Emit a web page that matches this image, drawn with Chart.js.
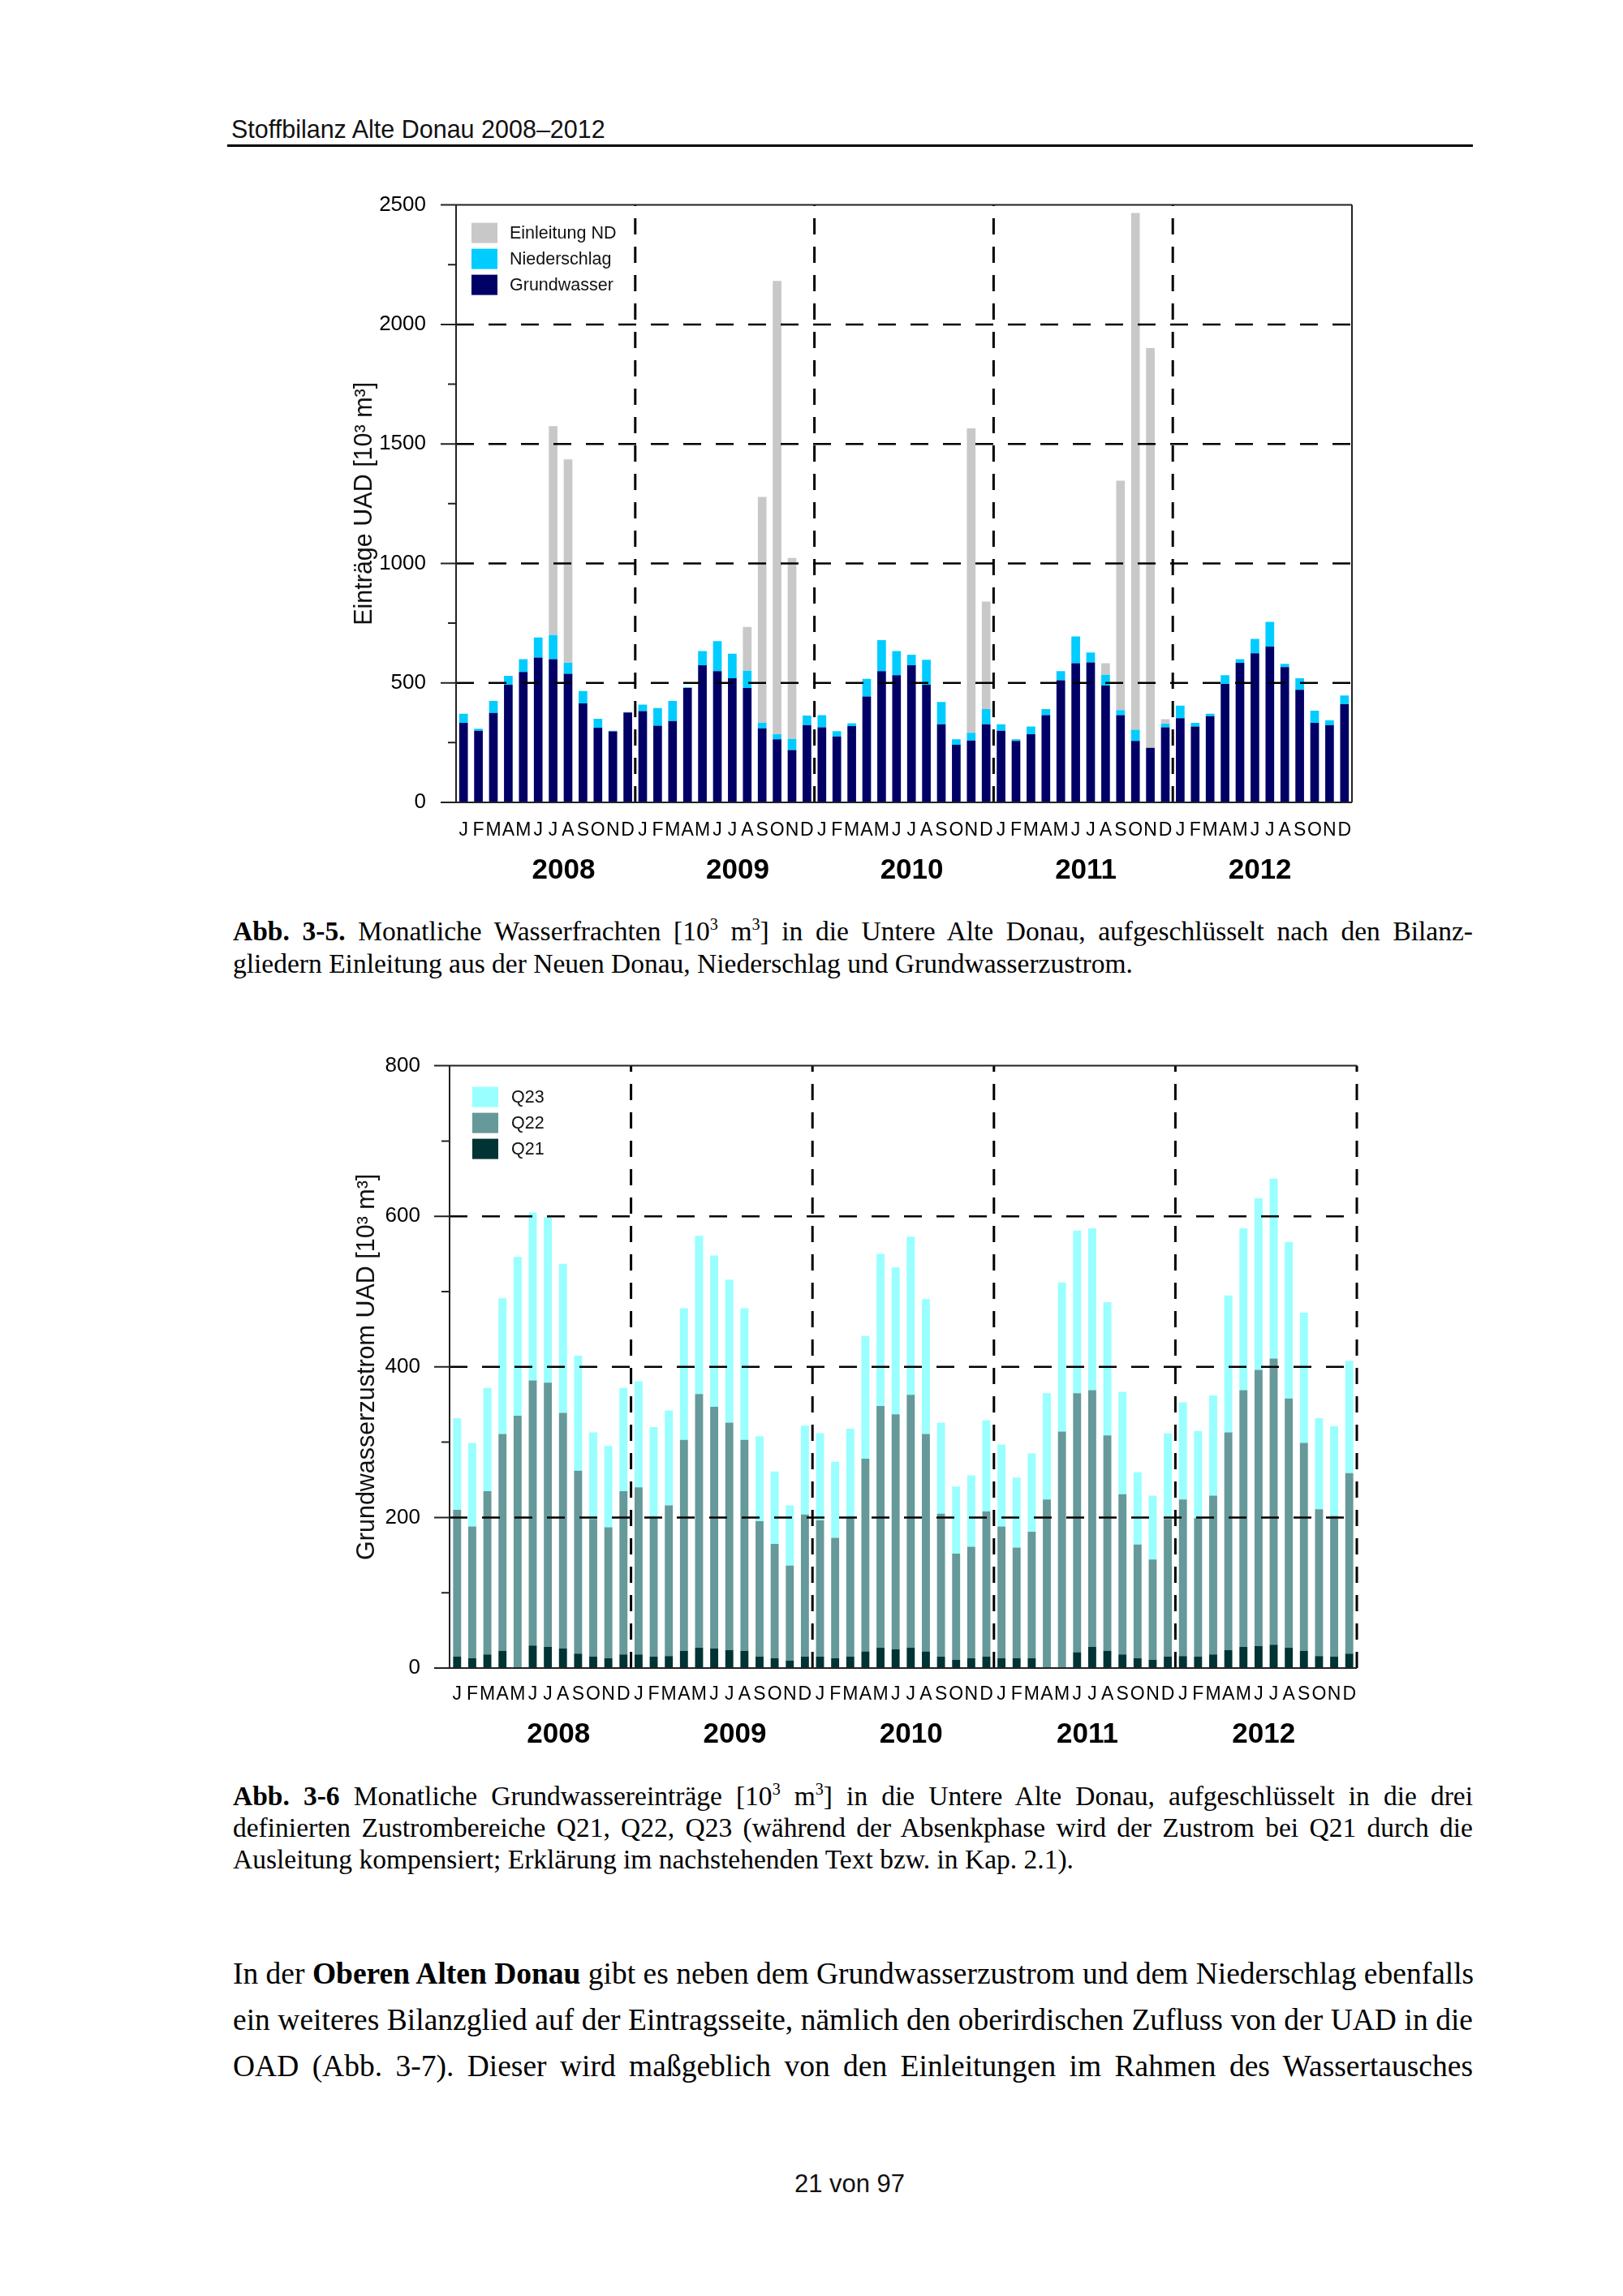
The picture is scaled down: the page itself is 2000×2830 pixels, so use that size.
<!DOCTYPE html>
<html>
<head>
<meta charset="utf-8">
<script src="https://cdn.jsdelivr.net/npm/chart.js@4.4.1/dist/chart.umd.min.js"></script>
<style>
  body { margin: 0; background: #fff; }
  .page { position: relative; width: 2000px; height: 2830px; overflow: hidden; }
  .abs { position: absolute; }
  .head { left: 285px; top: 141px; font: 30.5px/36px "Liberation Sans", Arial, sans-serif; color: #111; }
  .rule { left: 280px; top: 178px; width: 1535px; height: 3px; background: #000; }
  .serif { font-family: "Liberation Serif", "Times New Roman", serif; color: #000; }
  .cap { left: 287px; width: 1528px; font-size: 33.5px; }
  .body { left: 287px; width: 1528px; font-size: 37.5px; }
  .cap div, .body div { white-space: nowrap; }
  .j { text-align: justify; text-align-last: justify; }
  sup { font-size: 0.6em; line-height: 0; vertical-align: 0.65em; }
  .foot { left: 900px; width: 294px; top: 2674px; text-align: center; font: 31px/36px "Liberation Sans", Arial, sans-serif; color: #111; }
  canvas { position: absolute; }
</style>
</head>
<body>
<div class="page">
  <div class="abs head">Stoffbilanz Alte Donau 2008–2012</div>
  <div class="abs rule"></div>

  <canvas id="chart1" width="1320" height="920" style="left:380px;top:200px;width:1320px;height:920px"></canvas>

  <div class="abs serif cap" style="top:1128px;line-height:40px">
    <div class="j"><b>Abb. 3-5.</b> Monatliche Wasserfrachten [10<sup>3</sup> m<sup>3</sup>] in die Untere Alte Donau, aufgeschlüsselt nach den Bilanz-</div>
    <div>gliedern Einleitung aus der Neuen Donau, Niederschlag und Grundwasserzustrom.</div>
  </div>

  <canvas id="chart2" width="1320" height="918" style="left:380px;top:1262px;width:1320px;height:918px"></canvas>

  <div class="abs serif cap" style="top:2194px;line-height:39px">
    <div class="j"><b>Abb. 3-6</b> Monatliche Grundwassereinträge [10<sup>3</sup> m<sup>3</sup>] in die Untere Alte Donau, aufgeschlüsselt in die drei</div>
    <div class="j">definierten Zustrombereiche Q21, Q22, Q23 (während der Absenkphase wird der Zustrom bei Q21 durch die</div>
    <div>Ausleitung kompensiert; Erklärung im nachstehenden Text bzw. in Kap. 2.1).</div>
  </div>

  <div class="abs serif body" style="top:2404px;line-height:57px">
    <div class="j">In der <b>Oberen Alten Donau</b> gibt es neben dem Grundwasserzustrom und dem Niederschlag ebenfalls</div>
    <div class="j">ein weiteres Bilanzglied auf der Eintragsseite, nämlich den oberirdischen Zufluss von der UAD in die</div>
    <div class="j">OAD (Abb. 3-7). Dieser wird maßgeblich von den Einleitungen im Rahmen des Wassertausches</div>
  </div>

  <div class="abs foot">21 von 97</div>
</div>

<script>
// month letters and years
const monthLetters = ['J','F','M','A','M','J','J','A','S','O','N','D'];
const years = ['2008','2009','2010','2011','2012'];
const months = years.flatMap(() => monthLetters);

// Abb. 3-5 (10^3 m^3), stacked: Grundwasser, Niederschlag, Einleitung ND
const grundwasser = [
  333, 300, 374, 492, 546, 606, 599, 538, 414, 312, 297, 376,
  382, 321, 340, 479, 574, 549, 519, 479, 310, 264, 219, 323,
  314, 276, 319, 443, 549, 532, 574, 492, 327, 241, 259, 327,
  300, 257, 285, 365, 511, 582, 586, 489, 365, 257, 228, 314,
  352, 317, 361, 496, 584, 624, 652, 566, 471, 333, 323, 411
];
const niederschlag = [
  38, 8, 50, 38, 53, 84, 101, 46, 52, 38, 3, 2,
  27, 74, 84, 2, 59, 126, 103, 72, 23, 21, 47, 40,
  51, 22, 12, 74, 130, 101, 44, 105, 93, 23, 32, 63,
  27, 7, 32, 25, 38, 112, 41, 45, 21, 47, 0, 15,
  53, 16, 10, 36, 15, 60, 103, 14, 48, 51, 21, 36
];
const einleitungND = [
  0, 0, 0, 0, 0, 0, 874, 851, 0, 0, 0, 0,
  0, 0, 0, 0, 0, 0, 0, 183, 945, 1897, 757, 0,
  0, 0, 0, 0, 0, 0, 0, 0, 0, 0, 1274, 450,
  0, 0, 0, 0, 0, 0, 0, 48, 960, 2162, 1673, 19,
  0, 0, 0, 0, 0, 0, 0, 0, 0, 0, 0, 0
];

// Abb. 3-6 (10^3 m^3), stacked: Q21, Q22, Q23
const q21 = [
  15, 13, 18, 23, 0, 30, 28, 26, 19, 15, 13, 18,
  18, 15, 16, 23, 27, 26, 24, 23, 15, 13, 10, 15,
  15, 13, 15, 22, 27, 25, 27, 22, 15, 11, 13, 15,
  13, 13, 13, 0, 0, 21, 28, 23, 18, 13, 11, 15,
  16, 15, 18, 24, 28, 29, 31, 27, 23, 16, 15, 19
];
const q22 = [
  195, 175, 217, 288, 335, 352, 351, 313, 243, 183, 174, 217,
  222, 186, 200, 280, 337, 321, 302, 280, 180, 152, 126, 189,
  181, 160, 186, 256, 321, 312, 336, 289, 190, 141, 148, 193,
  175, 147, 168, 224, 314, 344, 341, 286, 213, 151, 133, 183,
  208, 184, 211, 289, 341, 367, 380, 331, 276, 195, 187, 240
];
const q23 = [
  122, 111, 137, 180, 211, 223, 220, 198, 153, 115, 108, 137,
  141, 119, 126, 175, 210, 201, 190, 175, 113, 96, 80, 118,
  116, 101, 117, 163, 202, 195, 210, 179, 121, 89, 95, 121,
  109, 93, 104, 141, 198, 216, 215, 177, 136, 96, 85, 114,
  129, 116, 133, 182, 215, 228, 239, 208, 173, 121, 119, 149
];

const SANS = '"Liberation Sans", Arial, sans-serif';

// frame, dashed grid, year dividers, legend, axis title, year labels
function pagePlugin(cfg) {
  return {
    id: 'pageFrame',
    afterDatasetsDraw(chart) {
      const { ctx, chartArea: a, scales: { x, y } } = chart;
      ctx.save();

      // dashed horizontal grid
      ctx.strokeStyle = '#000';
      ctx.lineWidth = 2.5;
      ctx.setLineDash([22, 18]);
      cfg.grid.forEach(v => {
        const py = y.getPixelForValue(v);
        ctx.beginPath();
        ctx.moveTo(a.left, py);
        ctx.lineTo(a.right, py);
        ctx.stroke();
      });

      // dashed year dividers
      ctx.setLineDash([20, 15]);
      ctx.lineWidth = 3;
      cfg.dividers.forEach(i => {
        const px = x.getPixelForValue(i - 0.5);
        ctx.beginPath();
        ctx.moveTo(px, a.bottom);
        ctx.lineTo(px, a.top);
        ctx.stroke();
      });
      ctx.setLineDash([]);

      // axis lines + ticks
      ctx.strokeStyle = '#222';
      ctx.lineWidth = 2;
      ctx.beginPath();
      ctx.moveTo(a.left - 19, a.top); ctx.lineTo(a.right, a.top);
      ctx.moveTo(a.left - 19, a.bottom); ctx.lineTo(a.right, a.bottom);
      ctx.moveTo(a.left, a.top); ctx.lineTo(a.left, a.bottom);
      if (cfg.rightBorder) {
        ctx.moveTo(a.right, a.top); ctx.lineTo(a.right, a.bottom);
      }
      y.ticks.forEach(t => {
        const py = y.getPixelForValue(t.value);
        const len = t.value % cfg.major === 0 ? 19 : 10;
        ctx.moveTo(a.left - len, py);
        ctx.lineTo(a.left, py);
      });
      ctx.stroke();

      // legend
      ctx.font = '21.5px ' + SANS;
      ctx.textBaseline = 'middle';
      ctx.textAlign = 'left';
      cfg.legend.forEach((item, k) => {
        const by = a.top + cfg.legendTop + k * 32;
        ctx.fillStyle = item.color;
        ctx.fillRect(a.left + cfg.boxX, by, 32, 25);
        ctx.fillStyle = '#111';
        ctx.fillText(item.label, a.left + cfg.textX, by + 13);
      });

      // y axis title
      ctx.save();
      ctx.translate(a.left - cfg.titleOffset, (a.top + a.bottom) / 2);
      ctx.rotate(-Math.PI / 2);
      ctx.textAlign = 'center';
      ctx.font = '30.5px ' + SANS;
      ctx.fillStyle = '#111';
      ctx.fillText(cfg.title, 0, 0);
      ctx.restore();

      // year labels
      ctx.font = 'bold 35px ' + SANS;
      ctx.fillStyle = '#000';
      ctx.textAlign = 'center';
      years.forEach((yr, k) => {
        const px = x.getPixelForValue(12 * k + 6.7 - 0.34 * k);
        ctx.fillText(yr, px, a.bottom + cfg.yearY);
      });

      ctx.restore();
    }
  };
}

function makeChart(id, datasets, opts) {
  return new Chart(document.getElementById(id), {
    type: 'bar',
    data: { labels: months, datasets: datasets },
    options: {
      responsive: false,
      animation: false,
      // top space comes from the y tick padding (label half height + padding)
      layout: { padding: { top: 0, right: opts.padRight, left: 0, bottom: 0 } },
      plugins: { legend: { display: false }, tooltip: { enabled: false } },
      scales: {
        x: {
          stacked: true,
          grid: { display: false, drawTicks: false, tickLength: 0 },
          border: { display: false },
          ticks: {
            autoSkip: false, maxRotation: 0, color: '#000', padding: opts.xPad,
            font: { family: SANS, size: 23 }
          },
          afterFit: s => { s.height = opts.xHeight; }
        },
        y: {
          stacked: true,
          min: 0,
          max: opts.max,
          grid: { display: false, drawTicks: false, tickLength: 0 },
          border: { display: false },
          ticks: {
            stepSize: opts.step, color: '#000', padding: opts.yPad,
            font: { family: SANS, size: 26 },
            callback: v => (v % opts.major === 0 ? v : '')
          },
          afterFit: s => { s.width = opts.yWidth; }
        }
      }
    },
    plugins: [pagePlugin(opts)]
  });
}

const bar = (label, data, color, pct) => ({
  label: label, data: data, backgroundColor: color,
  borderWidth: 0, barPercentage: pct, categoryPercentage: 1
});

// CHART 1
makeChart('chart1', [
  bar('Grundwasser', grundwasser, '#000066', 0.58),
  bar('Niederschlag', niederschlag, '#00ccff', 0.58),
  bar('Einleitung ND', einleitungND, '#c8c8c8', 0.58)
], {
  max: 2500, step: 250, major: 500, grid: [500, 1000, 1500, 2000],
  dividers: [12, 24, 36, 48], rightBorder: true,
  padRight: 34, xHeight: 131, yWidth: 182, xPad: 21, yPad: 37,
  legendTop: 22, boxX: 19, textX: 66, titleOffset: 112, yearY: 84,
  title: 'Einträge UAD [10³ m³]',
  legend: [
    { label: 'Einleitung ND', color: '#c8c8c8' },
    { label: 'Niederschlag', color: '#00ccff' },
    { label: 'Grundwasser', color: '#000066' }
  ]
});

// CHART 2
makeChart('chart2', [
  bar('Q21', q21, '#003333', 0.53),
  bar('Q22', q22, '#669999', 0.53),
  bar('Q23', q23, '#99ffff', 0.53)
], {
  max: 800, step: 100, major: 200, grid: [200, 400, 600],
  dividers: [12, 24, 36, 48, 60], rightBorder: false,
  padRight: 28, xHeight: 124, yWidth: 174, xPad: 19, yPad: 36,
  legendTop: 26, boxX: 28, textX: 76, titleOffset: 101, yearY: 82,
  title: 'Grundwasserzustrom UAD [10³ m³]',
  legend: [
    { label: 'Q23', color: '#99ffff' },
    { label: 'Q22', color: '#669999' },
    { label: 'Q21', color: '#003333' }
  ]
});
</script>
</body>
</html>
